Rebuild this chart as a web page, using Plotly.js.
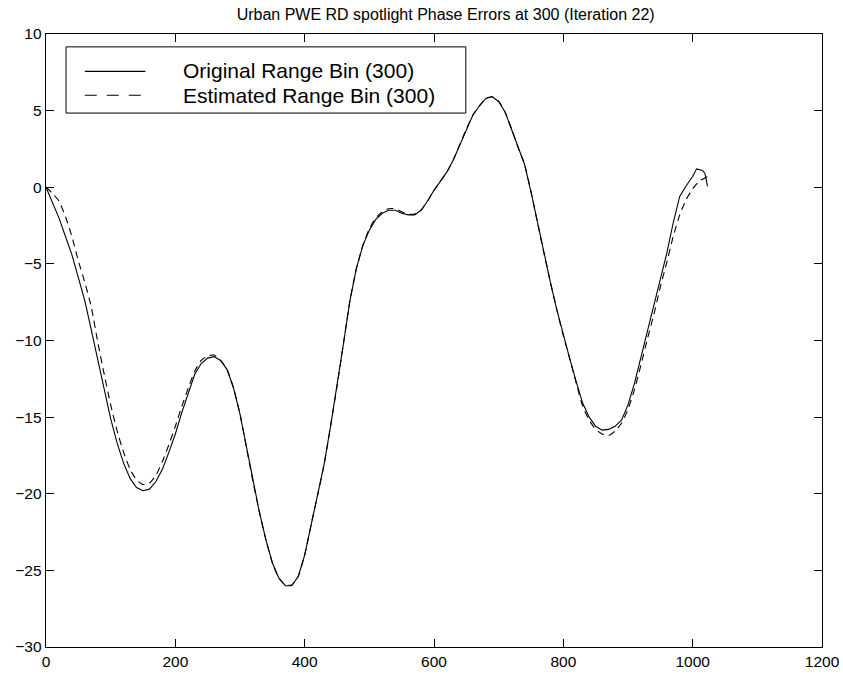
<!DOCTYPE html>
<html>
<head>
<meta charset="utf-8">
<script src="https://cdn.plot.ly/plotly-3.0.1.min.js"></script>
<style>html,body{margin:0;padding:0;background:#fff;}#chart{width:843px;height:677px;}</style>
</head>
<body>
<div id="chart"></div>
<script>
// Original Range Bin (300)
const origX = [0,10,20,30,40,50,60,70,80,90,100,110,120,130,140,150,160,170,180,190,200,210,220,230,240,250,260,270,280,290,300,310,320,330,340,350,360,370,380,390,400,410,420,430,440,450,460,470,480,490,500,510,520,530,540,550,560,570,580,590,600,610,620,630,640,650,660,670,680,690,700,710,720,730,740,750,760,770,780,790,800,810,820,830,840,850,860,870,880,890,900,910,920,930,940,950,960,970,980,990,1000,1006,1015,1019,1023];
const origY = [0,-1.0,-2.0,-3.2,-4.4,-5.9,-7.4,-9.3,-11.3,-13.3,-15.1,-16.7,-18.0,-19.0,-19.6,-19.8,-19.7,-19.2,-18.4,-17.3,-16.1,-14.7,-13.4,-12.2,-11.5,-11.15,-11.05,-11.3,-11.9,-13.1,-14.8,-17.0,-19.2,-21.2,-23.0,-24.5,-25.5,-26.0,-26.0,-25.4,-24.0,-22.0,-20.1,-18.1,-15.6,-13.0,-10.2,-7.4,-5.3,-3.8,-2.8,-2.1,-1.7,-1.5,-1.5,-1.7,-1.8,-1.8,-1.5,-0.9,-0.2,0.4,1.0,1.8,2.8,3.8,4.7,5.3,5.8,5.9,5.6,4.9,3.8,2.6,1.5,-0.3,-2.3,-4.3,-6.2,-8.0,-9.7,-11.2,-12.7,-14.1,-15.0,-15.6,-15.85,-15.8,-15.6,-15.2,-14.2,-12.8,-11.1,-9.4,-7.8,-5.9,-4.3,-2.3,-0.6,0.1,0.7,1.2,1.1,0.9,0.05];

// Estimated Range Bin (300)
const estX = [0,10,20,30,40,50,60,70,80,90,100,110,120,130,140,150,160,170,180,190,200,210,220,230,240,250,260,270,280,290,300,310,320,330,340,350,360,370,380,390,400,410,420,430,440,450,460,470,480,490,500,510,520,530,540,550,560,570,580,590,600,610,620,630,640,650,660,670,680,690,700,710,720,730,740,750,760,770,780,790,800,810,820,830,840,850,860,870,880,890,900,910,920,930,940,950,960,970,980,990,1000,1010,1023];
const estY = [0,-0.4,-0.9,-1.9,-3.2,-4.8,-6.2,-7.8,-10.1,-12.2,-14.2,-15.9,-17.3,-18.4,-19.1,-19.4,-19.3,-18.8,-17.9,-16.8,-15.6,-14.3,-13.1,-12.0,-11.3,-11.0,-10.95,-11.3,-11.9,-13.1,-14.8,-17.0,-19.2,-21.2,-23.0,-24.5,-25.5,-25.95,-25.95,-25.4,-24.0,-22.0,-20.1,-18.1,-15.6,-13.0,-10.2,-7.4,-5.3,-3.8,-2.7,-2.0,-1.6,-1.4,-1.4,-1.6,-1.75,-1.75,-1.5,-0.9,-0.2,0.4,1.0,1.8,2.8,3.8,4.7,5.3,5.8,5.9,5.6,4.9,3.8,2.6,1.5,-0.3,-2.3,-4.3,-6.2,-8.0,-9.7,-11.2,-12.8,-14.3,-15.2,-15.8,-16.1,-16.2,-15.9,-15.4,-14.5,-13.2,-11.6,-9.9,-8.3,-6.5,-4.9,-3.2,-1.8,-0.8,-0.1,0.4,0.7];

const xTicks = [0,200,400,600,800,1000,1200];
const yTicks = [-30,-25,-20,-15,-10,-5,0,5,10];
const titleText = 'Urban PWE RD spotlight Phase Errors at 300 (Iteration 22)';
const legendLabels = ['Original Range Bin (300)', 'Estimated Range Bin (300)'];

const FONT = 'Liberation Sans, Arial, Helvetica, sans-serif';

const traces = [
  {x: origX, y: origY, type: 'scatter', mode: 'lines', name: legendLabels[0],
   line: {color: '#000', width: 1.1}},
  {x: estX, y: estY, type: 'scatter', mode: 'lines', name: legendLabels[1],
   line: {color: '#000', width: 1.1, dash: '7px,5px', shape: 'spline', smoothing: 0.5}}
];

const axisCommon = {
  showgrid: false, zeroline: false, showline: true, linecolor: '#000', linewidth: 1.3,
  mirror: 'ticks', ticks: 'inside', ticklen: 8, tickwidth: 1, tickcolor: '#000',
  tickfont: {family: FONT, size: 15.5, color: '#000'}
};

const layout = {
  width: 843, height: 677,
  margin: {l: 46, r: 21, t: 34, b: 30},
  paper_bgcolor: '#fff', plot_bgcolor: '#fff',
  showlegend: false,
  title: {text: titleText, font: {family: FONT, size: 16, color: '#000'}, x: 0.515, xref: 'paper', xanchor: 'center', y: 0.978, yanchor: 'middle'},
  xaxis: Object.assign({}, axisCommon, {range: [0, 1200], tickvals: xTicks, ticktext: xTicks.map(String)}),
  yaxis: Object.assign({}, axisCommon, {range: [-30, 10], tickvals: yTicks, ticktext: yTicks.map(v => v < 0 ? '\u2212' + Math.abs(v) : String(v))}),
  shapes: [
    {type: 'rect', xref: 'paper', yref: 'paper', x0: 0.0258, x1: 0.541, y0: 0.871, y1: 0.979,
     line: {color: '#000', width: 1}, fillcolor: '#fff', layer: 'above'},
    {type: 'line', xref: 'paper', yref: 'paper', x0: 0.050, x1: 0.128, y0: 0.939, y1: 0.939,
     line: {color: '#000', width: 1.1}, layer: 'above'},
    {type: 'line', xref: 'paper', yref: 'paper', x0: 0.050, x1: 0.128, y0: 0.900, y1: 0.900,
     line: {color: '#000', width: 1.1, dash: '12px,10px'}, layer: 'above'}
  ],
  annotations: [
    {xref: 'paper', yref: 'paper', x: 0.175, y: 0.940, xanchor: 'left', yanchor: 'middle', showarrow: false,
     text: legendLabels[0], font: {family: FONT, size: 21, color: '#000'}, borderpad: 0},
    {xref: 'paper', yref: 'paper', x: 0.175, y: 0.899, xanchor: 'left', yanchor: 'middle', showarrow: false,
     text: legendLabels[1], font: {family: FONT, size: 21, color: '#000'}, borderpad: 0}
  ]
};

Plotly.newPlot('chart', traces, layout, {staticPlot: true, displayModeBar: false});
</script>
</body>
</html>
